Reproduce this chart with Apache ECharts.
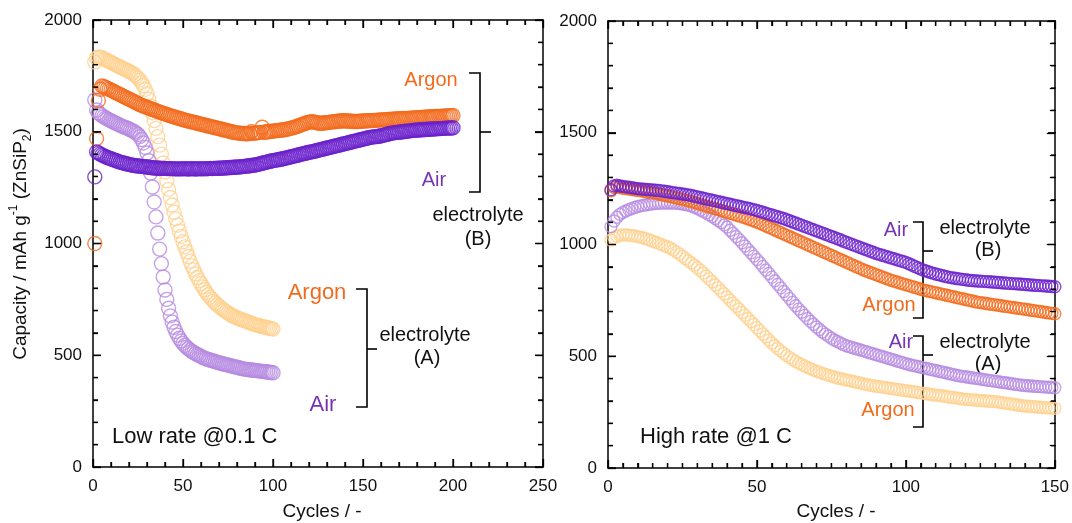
<!DOCTYPE html>
<html>
<head>
<meta charset="utf-8">
<script src="https://cdn.jsdelivr.net/npm/echarts@6/dist/echarts.min.js"></script>
<style>
  html, body { margin: 0; padding: 0; background: #fff; }
  #chart { width: 1072px; height: 523px; }
</style>
</head>
<body>
<div id="chart"></div>
<script>
// ---- data: capacity (mAh/g) per cycle, first value = cycle 1 ----

// low rate @0.1 C, electrolyte (B)
const lowArgonB = [
  1000,1470,1640,1690,1705,1702,1698,1694,1690,1686,
  1682,1678,1674,1670,1666,1662,1658,1654,1650,1646,
  1642,1638,1634,1630,1626,1622,1618,1615,1612,1609,
  1606,1603,1600,1597,1594,1591,1588,1585,1582,1580,
  1577,1574,1572,1569,1567,1564,1562,1559,1557,1555,
  1552,1550,1548,1546,1544,1542,1540,1538,1536,1534,
  1532,1530,1528,1526,1524,1522,1520,1518,1516,1514,
  1512,1510,1508,1506,1504,1502,1500,1498,1496,1495,
  1494,1493,1492,1492,1491,1491,1492,1500,1493,1494,
  1495,1496,1497,1520,1498,1499,1500,1501,1502,1503,
  1504,1505,1506,1507,1508,1509,1510,1512,1514,1516,
  1518,1520,1523,1526,1529,1532,1535,1538,1541,1543,
  1544,1545,1543,1541,1539,1538,1538,1539,1540,1541,
  1542,1543,1544,1545,1546,1547,1548,1548,1549,1549,
  1548,1548,1547,1547,1546,1546,1546,1547,1547,1548,
  1548,1549,1549,1550,1550,1551,1551,1552,1552,1553,
  1553,1554,1554,1555,1555,1556,1556,1557,1557,1558,
  1558,1559,1559,1560,1560,1561,1561,1562,1562,1563,
  1563,1564,1564,1565,1565,1566,1566,1567,1567,1568,
  1568,1569,1569,1570,1570,1571,1571,1572,1572,1573
];
const lowAirB = [
  1298,1410,1405,1400,1396,1392,1388,1385,1382,1379,
  1376,1373,1370,1367,1364,1362,1360,1358,1356,1354,
  1352,1350,1349,1348,1347,1346,1345,1344,1343,1342,
  1341,1340,1339,1338,1338,1337,1337,1336,1336,1336,
  1335,1335,1335,1335,1334,1334,1334,1334,1334,1334,
  1335,1334,1333,1334,1335,1334,1333,1334,1335,1334,
  1334,1335,1334,1335,1336,1335,1336,1336,1337,1337,
  1337,1338,1338,1339,1339,1340,1340,1341,1341,1342,
  1342,1343,1344,1345,1346,1347,1348,1349,1350,1351,
  1353,1355,1357,1359,1361,1363,1365,1367,1369,1371,
  1372,1374,1375,1377,1378,1380,1382,1384,1386,1388,
  1390,1392,1394,1396,1398,1400,1402,1404,1406,1408,
  1409,1411,1413,1415,1417,1419,1421,1423,1425,1427,
  1429,1431,1433,1435,1437,1439,1441,1443,1445,1447,
  1449,1451,1453,1455,1457,1459,1461,1463,1465,1467,
  1469,1471,1473,1475,1476,1477,1478,1479,1480,1482,
  1484,1486,1488,1490,1492,1494,1495,1496,1497,1498,
  1499,1500,1501,1502,1503,1504,1505,1506,1507,1508,
  1508,1509,1509,1510,1510,1511,1511,1512,1512,1513,
  1513,1514,1514,1515,1515,1516,1516,1517,1517,1518
];
// low rate @0.1 C, electrolyte (A)
const lowAirA = [
  1642,1597,1585,1578,1572,1567,1562,1557,1553,1549,
  1545,1541,1537,1533,1529,1525,1522,1519,1516,1512,
  1508,1504,1500,1494,1488,1478,1465,1450,1430,1405,
  1370,1315,1253,1186,1119,1047,975,910,850,792,
  750,710,676,648,625,606,590,576,564,553,
  544,536,529,523,517,512,507,503,499,495,
  490,487,484,481,479,476,474,471,469,466,
  464,462,460,458,456,454,452,450,448,446,
  444,442,440,438,437,436,435,434,433,432,
  431,430,429,428,427,426,425,424,423,422
];
const lowArgonA = [
  1812,1830,1834,1834,1830,1826,1822,1818,1814,1810,
  1806,1802,1798,1794,1790,1786,1782,1778,1774,1770,
  1766,1761,1755,1748,1740,1731,1720,1707,1690,1670,
  1645,1615,1585,1550,1515,1478,1440,1400,1360,1320,
  1280,1242,1206,1172,1140,1110,1082,1056,1032,1008,
  985,963,942,920,900,882,864,848,834,820,
  806,793,781,770,760,751,742,734,726,719,
  712,706,700,694,689,684,679,675,671,667,
  664,661,658,655,652,649,646,643,640,637,
  635,633,631,629,627,625,623,621,619,617
];

// high rate @1 C, electrolyte (B)
const highAirB = [
  1245,1262,1265,1262,1260,1258,1256,1254,1252,1250,
  1248,1247,1246,1245,1244,1243,1242,1240,1238,1236,
  1234,1232,1230,1228,1226,1224,1222,1219,1216,1213,
  1210,1207,1204,1201,1198,1195,1192,1189,1186,1183,
  1180,1177,1174,1171,1168,1165,1162,1159,1156,1152,
  1148,1144,1140,1136,1132,1128,1124,1120,1116,1111,
  1106,1101,1096,1091,1086,1081,1076,1071,1066,1061,
  1056,1051,1046,1041,1036,1031,1026,1021,1015,1010,
  1005,1000,995,990,985,980,975,970,965,960,
  956,952,948,944,940,936,932,928,924,920,
  914,908,902,896,890,885,880,876,872,868,
  865,861,858,855,852,850,848,846,844,842,
  840,839,838,837,836,835,834,833,832,831,
  830,829,828,827,826,825,824,823,822,821,
  820,819,818,817,816,815,814,813,812,811
];
const highArgonB = [
  1240,1255,1258,1255,1252,1250,1248,1246,1244,1242,
  1240,1238,1236,1234,1232,1229,1226,1223,1220,1217,
  1214,1211,1208,1205,1202,1199,1196,1192,1188,1184,
  1180,1176,1172,1168,1164,1160,1156,1152,1148,1144,
  1140,1136,1132,1128,1124,1120,1115,1110,1105,1100,
  1095,1089,1083,1077,1071,1065,1059,1053,1047,1041,
  1035,1029,1023,1017,1011,1005,999,993,987,981,
  975,969,963,957,951,945,939,933,927,921,
  915,909,903,897,891,885,880,875,870,865,
  860,855,850,845,840,836,832,828,824,820,
  816,812,808,804,800,796,793,790,787,784,
  781,778,775,772,769,766,763,760,757,754,
  751,748,745,742,740,738,736,734,732,730,
  728,726,724,722,720,718,716,714,712,710,
  708,706,704,702,700,698,696,694,692,690
];
// high rate @1 C, electrolyte (A)
const highAirA = [
  1080,1105,1122,1135,1143,1150,1156,1161,1166,1170,
  1173,1176,1178,1180,1182,1183,1184,1185,1186,1186,
  1186,1185,1184,1183,1181,1179,1176,1172,1167,1161,
  1154,1148,1141,1133,1125,1116,1107,1098,1088,1078,
  1064,1050,1036,1022,1008,993,978,963,948,933,
  918,902,886,870,854,838,822,806,790,774,
  758,742,726,711,697,683,669,656,643,631,
  620,609,599,590,581,573,566,559,553,547,
  543,539,535,531,527,523,519,515,511,507,
  503,499,495,491,487,483,479,475,471,467,
  463,460,457,454,451,448,445,442,439,436,
  433,430,427,424,421,418,415,412,410,408,
  406,404,402,400,398,396,394,392,390,388,
  386,384,382,380,378,376,374,372,370,369,
  368,367,366,365,364,363,362,361,360,359
];
const highArgonA = [
  1020,1030,1037,1041,1043,1043,1042,1040,1038,1035,
  1032,1029,1025,1020,1015,1010,1005,1000,994,989,
  983,975,966,957,947,937,927,917,907,896,
  885,872,859,846,833,819,806,792,779,765,
  751,737,724,710,696,683,669,655,642,628,
  614,600,587,573,559,547,535,524,513,503,
  494,485,477,470,463,456,450,444,438,433,
  428,423,419,415,411,407,403,400,397,394,
  391,388,385,382,379,376,373,370,368,366,
  364,362,360,358,356,354,352,350,348,346,
  344,342,340,338,336,334,332,330,328,326,
  325,323,321,319,317,315,313,311,309,307,
  306,305,304,303,302,301,300,299,298,297,
  295,293,291,289,287,285,283,281,279,277,
  276,275,274,273,272,271,270,269,268,267
];

// tick labels
const lowCycleTicks = [0, 50, 100, 150, 200, 250];
const highCycleTicks = [0, 50, 100, 150];
const capacityTicks = [0, 500, 1000, 1500, 2000];

// ---- styles ----
const FONT = '"Liberation Sans", Arial, Helvetica, sans-serif';
const C_ARGON_B = '#f26b1d';
const C_AIR_B = '#6a20cc';
const C_AIR_A = '#b68be1';
const C_ARGON_A = '#ffd18e';
const C_ARGON_TXT = '#f26b1d';
const C_AIR_TXT = '#7434b4';

const GRID_LOW = { left: 93, top: 20, width: 450, height: 447 };
const GRID_HIGH = { left: 608, top: 21, width: 448, height: 447 };

function points(arr) {
  return arr.map((v, i) => [i + 1, v]);
}

function scatter(name, arr, color, axis, size) {
  return {
    name: name,
    type: 'scatter',
    xAxisIndex: axis,
    yAxisIndex: axis,
    data: points(arr),
    symbol: 'circle',
    symbolSize: size,
    silent: true,
    itemStyle: { color: 'rgba(0,0,0,0)', borderColor: color, borderWidth: 1.4 }
  };
}

// one axis: labelled or mirrored (no labels), ticks inside
function valueAxis(ticks, gridIndex, position, labelled, minorSplit) {
  return {
    type: 'value',
    gridIndex: gridIndex,
    position: position,
    min: ticks[0],
    max: ticks[ticks.length - 1],
    interval: ticks[1] - ticks[0],
    axisLine: { show: true, onZero: false, lineStyle: { color: '#000', width: 1.5 } },
    axisTick: { show: true, inside: true, length: 8, lineStyle: { color: '#000', width: 1.3 } },
    minorTick: { show: true, splitNumber: minorSplit, length: 5, lineStyle: { color: '#000', width: 1.3 } },
    splitLine: { show: false },
    axisLabel: {
      show: labelled,
      color: '#111',
      fontSize: 17,
      fontFamily: FONT,
      margin: 11,
      formatter: v => String(v)
    }
  };
}

const xAxes = [
  valueAxis(lowCycleTicks, 0, 'bottom', true, 5),
  valueAxis(lowCycleTicks, 0, 'top', false, 5),
  valueAxis(highCycleTicks, 1, 'bottom', true, 10),
  valueAxis(highCycleTicks, 1, 'top', false, 10)
];
const yAxes = [
  valueAxis(capacityTicks, 0, 'left', true, 5),
  valueAxis(capacityTicks, 0, 'right', false, 5),
  valueAxis(capacityTicks, 1, 'left', true, 5),
  valueAxis(capacityTicks, 1, 'right', false, 5)
];

// annotation helpers
function label(text, x, y, color, size, align) {
  return {
    type: 'text', x: x, y: y, silent: true,
    style: {
      text: text, fill: color, font: size + 'px ' + FONT,
      align: align || 'center', verticalAlign: 'middle'
    }
  };
}
function seg(x1, y1, x2, y2, w) {
  return {
    type: 'line', silent: true, z: 50,
    shape: { x1: x1, y1: y1, x2: x2, y2: y2 },
    style: { stroke: '#000', lineWidth: w || 1.6 }
  };
}
function bracket(x, yTop, yBottom, yMid, hook, tick) {
  return [
    {
      type: 'polyline', silent: true,
      shape: { points: [[x - hook, yTop], [x, yTop], [x, yBottom], [x - hook, yBottom]] },
      style: { stroke: '#000', lineWidth: 1.6, fill: null }
    },
    seg(x, yMid, x + tick, yMid)
  ];
}

// axis titles (drawn as text so the y title can carry sup/subscripts)
const yTitle = {
  type: 'text', x: 21, y: 244, rotation: Math.PI / 2, silent: true,
  style: {
    text: '{a|Capacity / mAh g}{sup|-1}{a| (ZnSiP}{sub|2}{a|)}',
    align: 'center', verticalAlign: 'middle',
    rich: {
      a: { fontSize: 19, fontFamily: FONT, fill: '#111', lineHeight: 26 },
      sup: { fontSize: 12, fontFamily: FONT, fill: '#111', verticalAlign: 'top', lineHeight: 26, padding: [0, 0, 8, 0] },
      sub: { fontSize: 12, fontFamily: FONT, fill: '#111', verticalAlign: 'bottom', lineHeight: 26 }
    }
  }
};

const graphics = [
  yTitle,
  label('Cycles / -', 322, 512, '#111', 19),
  label('Cycles / -', 836, 512, '#111', 19),
  // low rate, electrolyte (B)
  label('Argon', 431, 80, C_ARGON_TXT, 20),
  label('Air', 434, 180, C_AIR_TXT, 20),
  label('electrolyte', 478, 215, '#111', 20),
  label('(B)', 478, 239, '#111', 20),
  ...bracket(480, 73, 192, 132, 11, 11),
  // low rate, electrolyte (A)
  label('Argon', 317, 293, C_ARGON_TXT, 22),
  label('Air', 323, 405, C_AIR_TXT, 22),
  label('electrolyte', 425, 335, '#111', 20),
  label('(A)', 427, 358, '#111', 20),
  ...bracket(367, 289, 407, 349, 11, 10),
  label('Low rate @0.1 C', 112, 437, '#111', 22, 'left'),
  // high rate, electrolyte (B)
  label('Air', 896, 230, C_AIR_TXT, 20),
  label('electrolyte', 985, 228, '#111', 20),
  label('(B)', 988, 250, '#111', 20),
  label('Argon', 889, 305, C_ARGON_TXT, 20),
  ...bracket(923, 222, 318, 251, 10, 10),
  // high rate, electrolyte (A)
  label('Air', 901, 342, C_AIR_TXT, 20),
  label('electrolyte', 985, 342, '#111', 20),
  label('(A)', 988, 364, '#111', 20),
  label('Argon', 888, 410, C_ARGON_TXT, 20),
  ...bracket(923, 336, 427, 355, 10, 10),
  label('High rate @1 C', 640, 437, '#111', 22, 'left')
];

const myChart = echarts.init(document.getElementById('chart'));
myChart.setOption({
  animation: false,
  backgroundColor: '#fff',
  grid: [GRID_LOW, GRID_HIGH],
  xAxis: xAxes,
  yAxis: yAxes,
  series: [
    scatter('Argon (A)', lowArgonA, C_ARGON_A, 0, 14),
    scatter('Air (A)', lowAirA, C_AIR_A, 0, 14),
    scatter('Argon (B)', lowArgonB, C_ARGON_B, 0, 14),
    scatter('Air (B)', lowAirB, C_AIR_B, 0, 14),
    scatter('Argon (A)', highArgonA, C_ARGON_A, 2, 12),
    scatter('Air (A)', highAirA, C_AIR_A, 2, 12),
    scatter('Argon (B)', highArgonB, C_ARGON_B, 2, 12),
    scatter('Air (B)', highAirB, C_AIR_B, 2, 12)
  ]
});

// inward tick marks on all four sides; positions come from the axis scale,
// falling back to the grid box when the conversion gives nothing usable
function tickMarks(axisIndex, grid, xTicks, xMinor, yTicks, yMinor) {
  const x0 = xTicks[0], x1 = xTicks[xTicks.length - 1];
  const y0 = yTicks[0], y1 = yTicks[yTicks.length - 1];
  function conv(v, dim) {
    let p = null;
    try {
      const pt = dim === 0
        ? myChart.convertToPixel({ xAxisIndex: axisIndex }, v)
        : myChart.convertToPixel({ yAxisIndex: axisIndex }, v);
      p = Array.isArray(pt) ? pt[dim] : pt;
    } catch (e) { p = null; }
    if (typeof p !== 'number' || !isFinite(p)) {
      p = dim === 0
        ? grid.left + (v - x0) / (x1 - x0) * grid.width
        : grid.top + grid.height - (v - y0) / (y1 - y0) * grid.height;
    }
    return p;
  }
  const left = grid.left, right = grid.left + grid.width;
  const top = grid.top, bottom = grid.top + grid.height;
  const out = [];
  function each(ticks, minor, fn) {
    for (let i = 0; i < ticks.length; i++) {
      fn(ticks[i], 8);
      if (i < ticks.length - 1) {
        const step = (ticks[i + 1] - ticks[i]) / minor;
        for (let k = 1; k < minor; k++) fn(ticks[i] + step * k, 5);
      }
    }
  }
  each(xTicks, xMinor, (v, len) => {
    const x = conv(v, 0);
    out.push(seg(x, bottom, x, bottom - len, 1.3));
    out.push(seg(x, top, x, top + len, 1.3));
  });
  each(yTicks, yMinor, (v, len) => {
    const y = conv(v, 1);
    out.push(seg(left, y, left + len, y, 1.3));
    out.push(seg(right, y, right - len, y, 1.3));
  });
  return out;
}

myChart.setOption({
  graphic: graphics
    .concat(tickMarks(0, GRID_LOW, lowCycleTicks, 5, capacityTicks, 5))
    .concat(tickMarks(2, GRID_HIGH, highCycleTicks, 10, capacityTicks, 5))
});
</script>
</body>
</html>
